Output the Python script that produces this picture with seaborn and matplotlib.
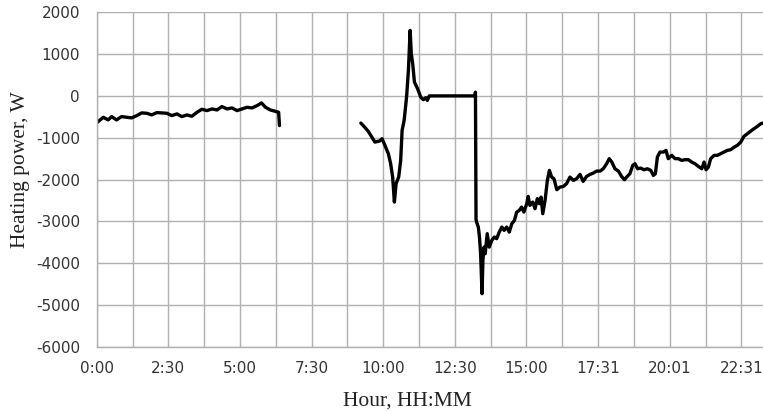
import matplotlib
matplotlib.use("Agg")
import matplotlib.pyplot as plt
import seaborn as sns
import pandas as pd
import numpy as np
from matplotlib.ticker import MultipleLocator

# ---- data (hours since midnight, heating power in W) ----
seg1_hours = [0.02, 0.23, 0.40, 0.52, 0.69, 0.87, 1.05, 1.22, 1.40, 1.57, 1.75, 1.92,
              2.10, 2.27, 2.45, 2.62, 2.80, 2.97, 3.15, 3.32, 3.50, 3.67, 3.85, 4.02,
              4.20, 4.37, 4.55, 4.72, 4.90, 5.07, 5.25, 5.42, 5.60, 5.75, 5.89, 6.06,
              6.23, 6.35, 6.38]
seg1_power = [-632, -512, -574, -495, -574, -495, -512, -526, -471, -407, -416, -455,
              -400, -407, -416, -471, -431, -495, -455, -487, -392, -320, -352, -312,
              -336, -256, -312, -288, -352, -312, -272, -288, -232, -168, -272, -336,
              -368, -392, -710]

seg2_hours = [9.22, 9.37, 9.48, 9.60, 9.71, 9.87, 9.96, 10.06, 10.18, 10.26, 10.33, 10.39,
              10.45, 10.54, 10.61, 10.66, 10.73, 10.78, 10.82, 10.88, 10.94, 10.98, 11.03,
              11.09, 11.20, 11.31, 11.40, 11.49, 11.54, 11.61, 13.18, 13.20, 13.22, 13.24,
              13.26, 13.32, 13.36, 13.40, 13.45, 13.48, 13.52, 13.56, 13.63, 13.70, 13.79,
              13.88, 13.96, 14.05, 14.14, 14.22, 14.31, 14.40, 14.49, 14.58, 14.66, 14.75,
              14.83, 14.91, 15.01, 15.06, 15.12, 15.22, 15.30, 15.38, 15.45, 15.51, 15.57,
              15.65, 15.73, 15.80, 15.88, 15.96, 16.06, 16.17, 16.29, 16.40, 16.52, 16.64,
              16.75, 16.87, 16.98, 17.10, 17.22, 17.33, 17.45, 17.57, 17.68, 17.80, 17.89,
              17.98, 18.09, 18.21, 18.32, 18.42, 18.52, 18.61, 18.71, 18.79, 18.88, 18.99,
              19.10, 19.22, 19.34, 19.43, 19.50, 19.57, 19.66, 19.78, 19.87, 19.95, 20.07,
              20.19, 20.30, 20.42, 20.53, 20.65, 20.77, 20.88, 21.00, 21.12, 21.20, 21.27,
              21.35, 21.43, 21.55, 21.66, 21.78, 21.90, 22.01, 22.13, 22.25, 22.36, 22.48,
              22.59, 22.71, 22.83, 22.94, 23.06, 23.18, 23.26]
seg2_power = [-650, -761, -849, -985, -1105, -1081, -1024, -1184, -1383, -1622, -1942, -2540,
              -2100, -1942, -1543, -825, -586, -268, 12, 610, 1567, 1010, 770,
              330, 172, -29, -91, -43, -108, 0, 0, 0, 90, -2950,
              -3019, -3138, -3377, -3775, -4731, -3935, -3617, -3775, -3296, -3617, -3456,
              -3377, -3416, -3258, -3138, -3217, -3138, -3258, -3057, -2978, -2779, -2739,
              -2660, -2779, -2579, -2404, -2619, -2540, -2698, -2459, -2579, -2421, -2818,
              -2500, -2021, -1782, -1942, -1981, -2244, -2181, -2165, -2100, -1942, -2021,
              -1981, -1878, -2045, -1926, -1878, -1847, -1799, -1799, -1743, -1622, -1502,
              -1583, -1743, -1799, -1926, -2005, -1926, -1862, -1663, -1622, -1743, -1727,
              -1767, -1743, -1782, -1902, -1862, -1463, -1344, -1344, -1304, -1502, -1423,
              -1502, -1502, -1543, -1526, -1526, -1583, -1622, -1686, -1743, -1583, -1767,
              -1703, -1502, -1423, -1423, -1383, -1344, -1304, -1287, -1225, -1184, -1105,
              -969, -904, -842, -785, -730, -665, -650]

tick_hours = [0, 2.5, 5, 7.5, 10, 12.5, 15, 17.5, 20, 22.5]
tick_labels = ["0:00", "2:30", "5:00", "7:30", "10:00", "12:30", "15:00", "17:31", "20:01", "22:31"]
y_ticks = [2000, 1000, 0, -1000, -2000, -3000, -4000, -5000, -6000]

df = pd.DataFrame({
    "hour": seg1_hours + seg2_hours,
    "power": seg1_power + seg2_power,
    "segment": [1] * len(seg1_hours) + [2] * len(seg2_hours),
})

sns.set_style("white")
plt.rcParams["font.family"] = ["DejaVu Sans"]

W, H = 763, 411
fig = plt.figure(figsize=(W / 100, H / 100), dpi=100)
left, right, top, bottom = 96.7, 763, 12.3, 346.7
ax = fig.add_axes([left / W, 1 - bottom / H, (right - left) / W, (bottom - top) / H])

sns.lineplot(data=df, x="hour", y="power", units="segment", estimator=None,
             sort=False, color="black", linewidth=2.4, ax=ax, legend=False)

grid_c = "#b0b0b0"
ax.set_xlim(0, (right - left) / 28.65)
ax.set_ylim(-6000, 2000)
ax.set_xticks(tick_hours)
ax.set_xticklabels(tick_labels)
ax.xaxis.set_minor_locator(MultipleLocator(1.25))
ax.set_yticks(y_ticks)
ax.set_yticklabels([str(v) for v in y_ticks])

ax.grid(True, which="both", color=grid_c, linewidth=1.0)
ax.set_axisbelow(True)
for s in ["top", "right"]:
    ax.spines[s].set_visible(False)
for s in ["left", "bottom"]:
    ax.spines[s].set_color(grid_c)
    ax.spines[s].set_linewidth(1.0)

ax.tick_params(axis="y", which="major", length=5, color=grid_c, width=1.0,
               pad=7, labelsize=11, labelcolor="#333333")
ax.tick_params(axis="x", which="both", length=0, pad=10, labelsize=11,
               labelcolor="#333333")

ax.set_xlabel("Hour, HH:MM", family="Liberation Serif", fontsize=15.5, color="#222222")
ax.set_ylabel("Heating power, W", family="Liberation Serif", fontsize=15.5, color="#222222")
ax.xaxis.set_label_coords((407.5 - left) / (right - left), -(406 - bottom) / (bottom - top) + 0.0)
ax.xaxis.label.set_va("baseline")
ax.yaxis.set_label_coords(-(left - 25) / (right - left), (bottom - 170) / (bottom - top))
ax.yaxis.label.set_va("baseline")

fig.savefig("out.png", dpi=100)
